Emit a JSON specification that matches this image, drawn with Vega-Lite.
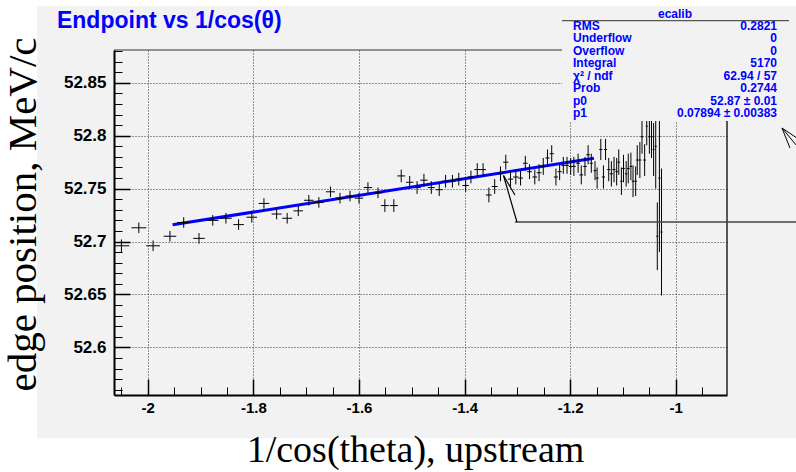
{
  "$schema": "https://vega.github.io/schema/vega-lite/v6.json",
  "width": 613,
  "height": 345,
  "autosize": {"type": "none"},
  "padding": {"left": 114, "top": 50, "right": 69, "bottom": 77},
  "background": "#f2f2f2",
  "config": {
    "view": {"stroke": null},
    "axis": {"labelFont": "Liberation Sans", "labelFontWeight": "bold", "labelColor": "black", "titleFont": "Liberation Serif", "titleFontWeight": "normal", "titleColor": "black"}
  },
  "datasets": {
    "points": [
      {"x": -2.050, "y": 52.696, "ex": 0.015, "ey": 0.006},
      {"x": -2.017, "y": 52.713, "ex": 0.014, "ey": 0.005},
      {"x": -1.990, "y": 52.696, "ex": 0.013, "ey": 0.005},
      {"x": -1.958, "y": 52.705, "ex": 0.012, "ey": 0.005},
      {"x": -1.932, "y": 52.718, "ex": 0.012, "ey": 0.005},
      {"x": -1.903, "y": 52.703, "ex": 0.011, "ey": 0.005},
      {"x": -1.877, "y": 52.720, "ex": 0.011, "ey": 0.005},
      {"x": -1.852, "y": 52.722, "ex": 0.011, "ey": 0.005},
      {"x": -1.828, "y": 52.716, "ex": 0.010, "ey": 0.005},
      {"x": -1.803, "y": 52.723, "ex": 0.010, "ey": 0.005},
      {"x": -1.780, "y": 52.736, "ex": 0.010, "ey": 0.005},
      {"x": -1.756, "y": 52.726, "ex": 0.0095, "ey": 0.005},
      {"x": -1.736, "y": 52.722, "ex": 0.0095, "ey": 0.005},
      {"x": -1.715, "y": 52.729, "ex": 0.009, "ey": 0.005},
      {"x": -1.695, "y": 52.739, "ex": 0.009, "ey": 0.005},
      {"x": -1.676, "y": 52.737, "ex": 0.009, "ey": 0.005},
      {"x": -1.654, "y": 52.747, "ex": 0.0085, "ey": 0.005},
      {"x": -1.636, "y": 52.741, "ex": 0.0085, "ey": 0.005},
      {"x": -1.617, "y": 52.743, "ex": 0.0085, "ey": 0.005},
      {"x": -1.600, "y": 52.741, "ex": 0.008, "ey": 0.005},
      {"x": -1.583, "y": 52.751, "ex": 0.008, "ey": 0.005},
      {"x": -1.564, "y": 52.746, "ex": 0.008, "ey": 0.005},
      {"x": -1.551, "y": 52.734, "ex": 0.0075, "ey": 0.006},
      {"x": -1.534, "y": 52.734, "ex": 0.0075, "ey": 0.006},
      {"x": -1.520, "y": 52.762, "ex": 0.0075, "ey": 0.006},
      {"x": -1.504, "y": 52.756, "ex": 0.007, "ey": 0.006},
      {"x": -1.490, "y": 52.751, "ex": 0.007, "ey": 0.006},
      {"x": -1.477, "y": 52.758, "ex": 0.007, "ey": 0.006},
      {"x": -1.463, "y": 52.751, "ex": 0.0065, "ey": 0.006},
      {"x": -1.448, "y": 52.749, "ex": 0.0065, "ey": 0.006},
      {"x": -1.436, "y": 52.757, "ex": 0.0065, "ey": 0.006},
      {"x": -1.423, "y": 52.757, "ex": 0.006, "ey": 0.006},
      {"x": -1.411, "y": 52.759, "ex": 0.006, "ey": 0.006},
      {"x": -1.398, "y": 52.753, "ex": 0.006, "ey": 0.006},
      {"x": -1.388, "y": 52.761, "ex": 0.006, "ey": 0.006},
      {"x": -1.376, "y": 52.768, "ex": 0.0055, "ey": 0.006},
      {"x": -1.365, "y": 52.768, "ex": 0.0055, "ey": 0.006},
      {"x": -1.354, "y": 52.744, "ex": 0.0055, "ey": 0.007},
      {"x": -1.343, "y": 52.752, "ex": 0.0055, "ey": 0.007},
      {"x": -1.332, "y": 52.764, "ex": 0.005, "ey": 0.007},
      {"x": -1.322, "y": 52.775, "ex": 0.005, "ey": 0.007},
      {"x": -1.313, "y": 52.759, "ex": 0.005, "ey": 0.007},
      {"x": -1.303, "y": 52.761, "ex": 0.005, "ey": 0.007},
      {"x": -1.294, "y": 52.760, "ex": 0.0045, "ey": 0.007},
      {"x": -1.285, "y": 52.774, "ex": 0.0045, "ey": 0.007},
      {"x": -1.277, "y": 52.766, "ex": 0.0045, "ey": 0.007},
      {"x": -1.267, "y": 52.761, "ex": 0.0045, "ey": 0.007},
      {"x": -1.259, "y": 52.765, "ex": 0.0045, "ey": 0.008},
      {"x": -1.251, "y": 52.771, "ex": 0.004, "ey": 0.008},
      {"x": -1.243, "y": 52.779, "ex": 0.004, "ey": 0.008},
      {"x": -1.235, "y": 52.783, "ex": 0.004, "ey": 0.008},
      {"x": -1.227, "y": 52.761, "ex": 0.004, "ey": 0.008},
      {"x": -1.220, "y": 52.766, "ex": 0.004, "ey": 0.008},
      {"x": -1.213, "y": 52.772, "ex": 0.004, "ey": 0.008},
      {"x": -1.206, "y": 52.772, "ex": 0.0035, "ey": 0.008},
      {"x": -1.199, "y": 52.771, "ex": 0.0035, "ey": 0.008},
      {"x": -1.193, "y": 52.771, "ex": 0.0035, "ey": 0.009},
      {"x": -1.185, "y": 52.774, "ex": 0.0035, "ey": 0.009},
      {"x": -1.179, "y": 52.763, "ex": 0.0035, "ey": 0.009},
      {"x": -1.172, "y": 52.771, "ex": 0.0035, "ey": 0.009},
      {"x": -1.166, "y": 52.782, "ex": 0.0035, "ey": 0.009},
      {"x": -1.160, "y": 52.774, "ex": 0.003, "ey": 0.009},
      {"x": -1.153, "y": 52.767, "ex": 0.003, "ey": 0.009},
      {"x": -1.149, "y": 52.760, "ex": 0.003, "ey": 0.010},
      {"x": -1.142, "y": 52.787, "ex": 0.003, "ey": 0.010},
      {"x": -1.137, "y": 52.761, "ex": 0.003, "ey": 0.011},
      {"x": -1.133, "y": 52.787, "ex": 0.003, "ey": 0.010},
      {"x": -1.127, "y": 52.768, "ex": 0.003, "ey": 0.011},
      {"x": -1.122, "y": 52.764, "ex": 0.003, "ey": 0.012},
      {"x": -1.117, "y": 52.768, "ex": 0.003, "ey": 0.012},
      {"x": -1.112, "y": 52.766, "ex": 0.0025, "ey": 0.013},
      {"x": -1.108, "y": 52.775, "ex": 0.0025, "ey": 0.012},
      {"x": -1.103, "y": 52.757, "ex": 0.0025, "ey": 0.013},
      {"x": -1.099, "y": 52.769, "ex": 0.0025, "ey": 0.013},
      {"x": -1.094, "y": 52.764, "ex": 0.0025, "ey": 0.012},
      {"x": -1.090, "y": 52.769, "ex": 0.0025, "ey": 0.014},
      {"x": -1.085, "y": 52.771, "ex": 0.0025, "ey": 0.013},
      {"x": -1.081, "y": 52.757, "ex": 0.0025, "ey": 0.015},
      {"x": -1.076, "y": 52.757, "ex": 0.0025, "ey": 0.014},
      {"x": -1.073, "y": 52.777, "ex": 0.0025, "ey": 0.014},
      {"x": -1.068, "y": 52.777, "ex": 0.0025, "ey": 0.017},
      {"x": -1.064, "y": 52.799, "ex": 0.0025, "ey": 0.016},
      {"x": -1.059, "y": 52.777, "ex": 0.0025, "ey": 0.015},
      {"x": -1.055, "y": 52.809, "ex": 0.002, "ey": 0.018},
      {"x": -1.050, "y": 52.799, "ex": 0.002, "ey": 0.016},
      {"x": -1.046, "y": 52.799, "ex": 0.002, "ey": 0.020},
      {"x": -1.042, "y": 52.787, "ex": 0.002, "ey": 0.025},
      {"x": -1.038, "y": 52.790, "ex": 0.002, "ey": 0.040},
      {"x": -1.035, "y": 52.705, "ex": 0.002, "ey": 0.032},
      {"x": -1.031, "y": 52.760, "ex": 0.002, "ey": 0.070},
      {"x": -1.027, "y": 52.709, "ex": 0.002, "ey": 0.060}
    ],
    "fit": [
      {"x": -1.953, "y": 52.7158},
      {"x": -1.155, "y": 52.7788}
    ],
    "stats": [
      {"row": 1, "stat": "RMS", "val": "0.2821"},
      {"row": 2, "stat": "Underflow", "val": "0"},
      {"row": 3, "stat": "Overflow", "val": "0"},
      {"row": 4, "stat": "Integral", "val": "5170"},
      {"row": 5, "stat": "χ² / ndf", "val": "62.94 / 57"},
      {"row": 6, "stat": "Prob", "val": "0.2744"},
      {"row": 7, "stat": "p0", "val": "52.87 ± 0.01"},
      {"row": 8, "stat": "p1", "val": "0.07894 ± 0.00383"}
    ]
  },
  "resolve": {"scale": {"y": "independent"}, "axis": {"x": "independent", "y": "independent"}},
  "layer": [
    {
      "resolve": {"axis": {"x": "independent", "y": "independent"}},
      "layer": [
        {
          "data": {"values": [{}]},
          "mark": {"type": "rect", "fill": "white", "clip": false},
          "encoding": {
            "x": {"datum": -2.5, "type": "quantitative", "scale": {"domain": [-2.064, -0.903], "nice": false, "zero": false}, "axis": null},
            "x2": {"datum": -2.2098},
            "y": {"datum": 52.2, "type": "quantitative", "scale": {"domain": [52.555, 52.881], "nice": false, "zero": false}, "axis": null},
            "y2": {"datum": 53.1}
          }
        },
        {
          "data": {"values": [{}]},
          "mark": {"type": "rect", "fill": "white", "clip": false},
          "encoding": {
            "x": {"datum": -2.5, "type": "quantitative", "scale": {"domain": [-2.064, -0.903], "nice": false, "zero": false}, "axis": null},
            "x2": {"datum": -0.5},
            "y": {"datum": 52.2, "type": "quantitative", "scale": {"domain": [52.555, 52.881], "nice": false, "zero": false}, "axis": null},
            "y2": {"datum": 52.514}
          }
        },
        {
          "data": {"values": [{}]},
          "mark": {"type": "rect", "fill": "white", "clip": false},
          "encoding": {
            "x": {"datum": -2.5, "type": "quantitative", "scale": {"domain": [-2.064, -0.903], "nice": false, "zero": false}, "axis": null},
            "x2": {"datum": -0.5},
            "y": {"datum": 52.9226, "type": "quantitative", "scale": {"domain": [52.555, 52.881], "nice": false, "zero": false}, "axis": null},
            "y2": {"datum": 53.1}
          }
        },
        {
          "data": {"name": "fit"},
          "mark": {"type": "point", "opacity": 0},
          "encoding": {
            "x": {"field": "x", "type": "quantitative", "scale": {"domain": [-2.064, -0.903], "nice": false, "zero": false},
              "axis": {"orient": "bottom", "values": [-2, -1.8, -1.6, -1.4, -1.2, -1], "grid": true, "gridColor": "#333", "gridDash": [1, 2], "gridWidth": 1, "domain": false, "ticks": false, "labels": false, "title": null, "zindex": 0}},
            "y": {"field": "y", "type": "quantitative", "scale": {"domain": [52.555, 52.881], "nice": false, "zero": false},
              "axis": {"orient": "left", "values": [52.6, 52.65, 52.7, 52.75, 52.8, 52.85], "grid": true, "gridColor": "#333", "gridDash": [1, 2], "gridWidth": 1, "domain": false, "ticks": false, "labels": false, "title": null, "zindex": 0}}
          }
        },
        {
          "data": {"name": "fit"},
          "mark": {"type": "line", "color": "#0000ff", "strokeWidth": 3, "clip": true},
          "encoding": {
            "x": {"field": "x", "type": "quantitative", "scale": {"domain": [-2.064, -0.903], "nice": false, "zero": false}, "axis": null},
            "y": {"field": "y", "type": "quantitative", "scale": {"domain": [52.555, 52.881], "nice": false, "zero": false}, "axis": null}
          }
        },
        {
          "data": {"name": "points"},
          "mark": {"type": "errorbar", "color": "black", "thickness": 1, "clip": true},
          "encoding": {
            "x": {"field": "x", "type": "quantitative", "scale": {"domain": [-2.064, -0.903], "nice": false, "zero": false}, "axis": null},
            "y": {"field": "y", "type": "quantitative", "scale": {"domain": [52.555, 52.881], "nice": false, "zero": false}, "axis": null},
            "yError": {"field": "ey"}
          }
        },
        {
          "data": {"name": "points"},
          "mark": {"type": "errorbar", "color": "black", "thickness": 1, "clip": true},
          "encoding": {
            "y": {"field": "y", "type": "quantitative", "scale": {"domain": [52.555, 52.881], "nice": false, "zero": false}, "axis": null},
            "x": {"field": "x", "type": "quantitative", "scale": {"domain": [-2.064, -0.903], "nice": false, "zero": false}, "axis": null},
            "xError": {"field": "ex"}
          }
        },
        {
          "data": {"values": [{}]},
          "mark": {"type": "rule", "color": "#333", "strokeWidth": 1.2, "clip": false},
          "encoding": {
            "x": {"datum": -2.064, "type": "quantitative", "scale": {"domain": [-2.064, -0.903], "nice": false, "zero": false}, "axis": null},
            "x2": {"datum": -0.903},
            "y": {"datum": 52.881, "type": "quantitative", "scale": {"domain": [52.555, 52.881], "nice": false, "zero": false}, "axis": null}
          }
        },
        {
          "data": {"values": [{}]},
          "mark": {"type": "rule", "color": "#222", "strokeWidth": 1.5, "clip": false},
          "encoding": {
            "x": {"datum": -0.903, "type": "quantitative", "scale": {"domain": [-2.064, -0.903], "nice": false, "zero": false}, "axis": null},
            "y": {"datum": 52.555, "type": "quantitative", "scale": {"domain": [52.555, 52.881], "nice": false, "zero": false}, "axis": null},
            "y2": {"datum": 52.881}
          }
        },
        {
          "data": {"values": [{}]},
          "mark": {"type": "rule", "color": "#444", "strokeWidth": 1.5, "clip": false},
          "encoding": {
            "x": {"datum": -1.3046, "type": "quantitative", "scale": {"domain": [-2.064, -0.903], "nice": false, "zero": false}, "axis": null},
            "x2": {"datum": -0.7648},
            "y": {"datum": 52.7185, "type": "quantitative", "scale": {"domain": [52.555, 52.881], "nice": false, "zero": false}, "axis": null}
          }
        },
        {
          "data": {"values": [{}]},
          "mark": {"type": "rule", "color": "black", "strokeWidth": 1.2, "clip": false},
          "encoding": {
            "x": {"datum": -1.3263, "type": "quantitative", "scale": {"domain": [-2.064, -0.903], "nice": false, "zero": false}, "axis": null},
            "x2": {"datum": -1.3008},
            "y": {"datum": 52.7624, "type": "quantitative", "scale": {"domain": [52.555, 52.881], "nice": false, "zero": false}, "axis": null},
            "y2": {"datum": 52.7185}
          }
        },
        {
          "data": {"values": [{}]},
          "mark": {"type": "rule", "color": "black", "strokeWidth": 1.2, "clip": false},
          "encoding": {
            "x": {"datum": -1.3263, "type": "quantitative", "scale": {"domain": [-2.064, -0.903], "nice": false, "zero": false}, "axis": null},
            "x2": {"datum": -1.3046},
            "y": {"datum": 52.7624, "type": "quantitative", "scale": {"domain": [52.555, 52.881], "nice": false, "zero": false}, "axis": null},
            "y2": {"datum": 52.744}
          }
        },
        {
          "data": {"values": [{}]},
          "mark": {"type": "rect", "fill": "#f2f2f2", "clip": false},
          "encoding": {
            "x": {"datum": -1.2155, "type": "quantitative", "scale": {"domain": [-2.064, -0.903], "nice": false, "zero": false}, "axis": null},
            "x2": {"datum": -0.6},
            "y": {"datum": 52.8139, "type": "quantitative", "scale": {"domain": [52.555, 52.881], "nice": false, "zero": false}, "axis": null},
            "y2": {"datum": 52.9226}
          }
        },
        {
          "data": {"values": [{}]},
          "mark": {"type": "rule", "color": "#555", "strokeWidth": 1.2, "clip": false},
          "encoding": {
            "x": {"datum": -1.2155, "type": "quantitative", "scale": {"domain": [-2.064, -0.903], "nice": false, "zero": false}, "axis": null},
            "x2": {"datum": -0.7856},
            "y": {"datum": 52.9087, "type": "quantitative", "scale": {"domain": [52.555, 52.881], "nice": false, "zero": false}, "axis": null}
          }
        },
        {
          "data": {"values": [{}]},
          "mark": {"type": "rule", "color": "black", "strokeWidth": 1, "clip": false},
          "encoding": {
            "x": {"datum": -0.7989, "type": "quantitative", "scale": {"domain": [-2.064, -0.903], "nice": false, "zero": false}, "axis": null},
            "x2": {"datum": -0.7705},
            "y": {"datum": 52.8073, "type": "quantitative", "scale": {"domain": [52.555, 52.881], "nice": false, "zero": false}, "axis": null},
            "y2": {"datum": 52.7978}
          }
        },
        {
          "data": {"values": [{}]},
          "mark": {"type": "rule", "color": "black", "strokeWidth": 1, "clip": false},
          "encoding": {
            "x": {"datum": -0.7989, "type": "quantitative", "scale": {"domain": [-2.064, -0.903], "nice": false, "zero": false}, "axis": null},
            "x2": {"datum": -0.7705},
            "y": {"datum": 52.8073, "type": "quantitative", "scale": {"domain": [52.555, 52.881], "nice": false, "zero": false}, "axis": null},
            "y2": {"datum": 52.7903}
          }
        },
        {
          "data": {"values": [{}]},
          "mark": {"type": "rule", "color": "black", "strokeWidth": 1, "clip": false},
          "encoding": {
            "x": {"datum": -0.7989, "type": "quantitative", "scale": {"domain": [-2.064, -0.903], "nice": false, "zero": false}, "axis": null},
            "x2": {"datum": -0.7837},
            "y": {"datum": 52.8073, "type": "quantitative", "scale": {"domain": [52.555, 52.881], "nice": false, "zero": false}, "axis": null},
            "y2": {"datum": 52.7884}
          }
        },
        {
          "data": {"values": [{"t": "Endpoint vs 1/cos(θ)"}]},
          "mark": {"type": "text", "align": "left", "baseline": "alphabetic", "font": "Liberation Sans", "fontSize": 23, "fontWeight": "bold", "color": "#0000ff", "clip": false},
          "encoding": {
            "x": {"datum": -2.172, "type": "quantitative", "scale": {"domain": [-2.064, -0.903], "nice": false, "zero": false}, "axis": null},
            "y": {"datum": 52.9018, "type": "quantitative", "scale": {"domain": [52.555, 52.881], "nice": false, "zero": false}, "axis": null},
            "text": {"field": "t"}
          }
        },
        {
          "data": {"name": "fit"},
          "mark": {"type": "point", "opacity": 0},
          "encoding": {
            "x": {"field": "x", "type": "quantitative", "scale": {"domain": [-2.064, -0.903], "nice": false, "zero": false},
              "axis": {"orient": "bottom", "values": [-2, -1.8, -1.6, -1.4, -1.2, -1], "labelExpr": "toString(datum.value)", "grid": false, "domain": true, "domainColor": "black", "domainWidth": 2, "ticks": true, "tickSize": -16, "tickColor": "black", "tickWidth": 1.5, "labelPadding": 21, "labelFontSize": 15, "labelFlush": false, "labelOverlap": false, "title": "1/cos(theta), upstream", "titleFontSize": 38, "titleX": 301, "titleY": 66, "titleAlign": "center", "titleBaseline": "alphabetic", "zindex": 1}},
            "y": {"field": "y", "type": "quantitative", "scale": {"domain": [52.555, 52.881], "nice": false, "zero": false},
              "axis": {"orient": "left", "values": [52.6, 52.65, 52.7, 52.75, 52.8, 52.85], "labelExpr": "toString(datum.value)", "grid": false, "domain": true, "domainColor": "black", "domainWidth": 2, "ticks": true, "tickSize": -16, "tickColor": "black", "tickWidth": 1.5, "labelPadding": 24, "labelFontSize": 17, "labelFlush": false, "labelOverlap": false, "title": "edge position, MeV/c", "titleFontSize": 41, "titleAngle": -90, "titleX": -79, "titleY": 164, "titleAlign": "center", "titleBaseline": "alphabetic", "zindex": 1}}
          }
        },
        {
          "data": {"name": "fit"},
          "mark": {"type": "point", "opacity": 0},
          "encoding": {
            "x": {"field": "x", "type": "quantitative", "scale": {"domain": [-2.064, -0.903], "nice": false, "zero": false},
              "axis": {"orient": "bottom", "values": [-2.05, -2.0, -1.95, -1.9, -1.85, -1.8, -1.75, -1.7, -1.65, -1.6, -1.55, -1.5, -1.45, -1.4, -1.35, -1.3, -1.25, -1.2, -1.15, -1.1, -1.05, -1.0, -0.95], "grid": false, "domain": false, "labels": false, "ticks": true, "tickSize": -8, "tickColor": "black", "tickWidth": 1, "title": null, "zindex": 1}},
            "y": {"field": "y", "type": "quantitative", "scale": {"domain": [52.555, 52.881], "nice": false, "zero": false},
              "axis": {"orient": "left", "values": [52.56, 52.57, 52.58, 52.59, 52.6, 52.61, 52.62, 52.63, 52.64, 52.65, 52.66, 52.67, 52.68, 52.69, 52.7, 52.71, 52.72, 52.73, 52.74, 52.75, 52.76, 52.77, 52.78, 52.79, 52.8, 52.81, 52.82, 52.83, 52.84, 52.85, 52.86, 52.87, 52.88], "grid": false, "domain": false, "labels": false, "ticks": true, "tickSize": -8, "tickColor": "black", "tickWidth": 1, "title": null, "zindex": 1}}
          }
        }
      ]
    },
    {
      "data": {"name": "stats"},
      "layer": [
        {
          "mark": {"type": "text", "align": "left", "baseline": "middle", "font": "Liberation Sans", "fontWeight": "bold", "fontSize": 12, "color": "#0000ff", "clip": false},
          "encoding": {
            "x": {"datum": -1.1947, "type": "quantitative", "scale": {"domain": [-2.064, -0.903], "nice": false, "zero": false}, "axis": null},
            "y": {"field": "row", "type": "quantitative", "scale": {"domain": [2.925, 30.59], "reverse": true, "nice": false, "zero": false}, "axis": null},
            "text": {"field": "stat"}
          }
        },
        {
          "mark": {"type": "text", "align": "right", "baseline": "middle", "font": "Liberation Sans", "fontWeight": "bold", "fontSize": 12, "color": "#0000ff", "clip": false},
          "encoding": {
            "x": {"datum": -0.8083, "type": "quantitative", "scale": {"domain": [-2.064, -0.903], "nice": false, "zero": false}, "axis": null},
            "y": {"field": "row", "type": "quantitative", "scale": {"domain": [2.925, 30.59], "reverse": true, "nice": false, "zero": false}, "axis": null},
            "text": {"field": "val"}
          }
        },
        {
          "data": {"values": [{"row": 0, "t": "ecalib"}]},
          "mark": {"type": "text", "align": "center", "baseline": "middle", "font": "Liberation Sans", "fontWeight": "bold", "fontSize": 12, "color": "#0000ff", "clip": false},
          "encoding": {
            "x": {"datum": -1.0015, "type": "quantitative", "scale": {"domain": [-2.064, -0.903], "nice": false, "zero": false}, "axis": null},
            "y": {"field": "row", "type": "quantitative", "scale": {"domain": [2.925, 30.59], "reverse": true, "nice": false, "zero": false}, "axis": null},
            "text": {"field": "t"}
          }
        }
      ]
    }
  ]
}
